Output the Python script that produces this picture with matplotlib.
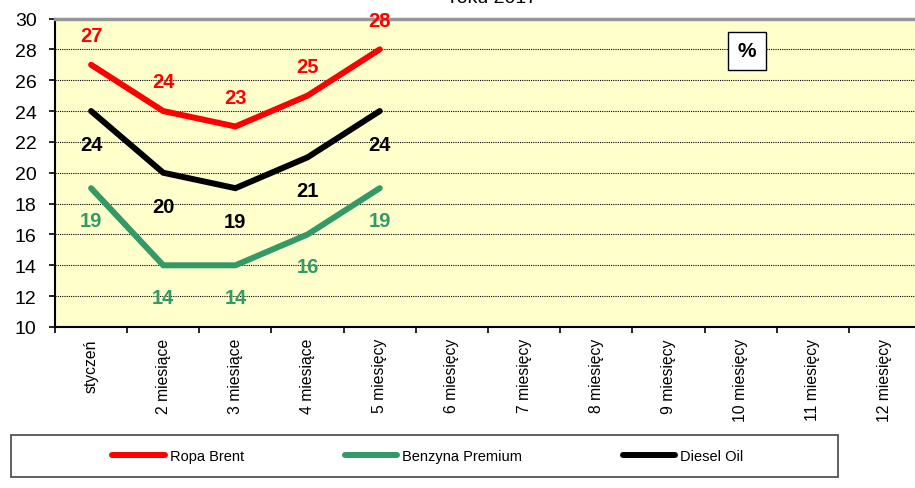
import matplotlib
matplotlib.use("Agg")
import matplotlib.pyplot as plt
from matplotlib.patches import Rectangle

plt.rcParams['font.family'] = ['Liberation Sans', 'DejaVu Sans']

# categories and values
months = ["styczeń", "2 miesiące", "3 miesiące", "4 miesiące", "5 miesięcy",
          "6 miesięcy", "7 miesięcy", "8 miesięcy", "9 miesięcy",
          "10 miesięcy", "11 miesięcy", "12 miesięcy"]
brent = [27, 24, 23, 25, 28]
benzyna = [19, 14, 14, 16, 19]
diesel = [24, 20, 19, 21, 24]
yticks = [10, 12, 14, 16, 18, 20, 22, 24, 26, 28, 30]

W, H = 915, 489
fig = plt.figure(figsize=(W / 100, H / 100), dpi=100)
ax = fig.add_axes([55 / W, (H - 328) / H, 866 / W, 308.5 / H])
ax.set_facecolor("#FFFFCC")

series = [
    ("Ropa Brent", brent, "#FF0000", 21),
    ("Benzyna Premium", benzyna, "#339966", -23),
    ("Diesel Oil", diesel, "#000000", -24),
]
xs = list(range(len(brent)))
handles = []
for name, vals, col, off in series:
    ln, = ax.plot(xs, vals, color=col, lw=4.3, solid_capstyle="round",
                  solid_joinstyle="miter", label=name, zorder=3)
    handles.append(ln)
    for x, v in zip(xs, vals):
        ax.annotate(str(v), (x, v), xytext=(0, off), textcoords="offset points",
                    ha="center", va="center", fontsize=14.5, fontweight="bold",
                    color=col, zorder=4)

ax.set_xlim(-0.5, 11.5)
ax.set_ylim(10, 30)
ax.set_yticks(yticks)
ax.set_yticklabels([str(t) for t in yticks], fontsize=14)
ax.tick_params(axis="y", direction="out", length=4.3, width=1.2, pad=9)
ax.set_xticks(range(len(months)))
ax.set_xticklabels(months, rotation=90, fontsize=11.3, va="top")
ax.tick_params(axis="x", which="major", length=0, pad=8)
ax.set_xticks([i - 0.5 for i in range(len(months) + 1)], minor=True)
ax.tick_params(axis="x", which="minor", direction="out", length=4, width=1.2)

for y in yticks[1:-1]:
    ax.axhline(y, color="black", lw=0.8, ls=(0, (1, 1)), zorder=1)

ax.spines["top"].set_color("#969696")
ax.spines["top"].set_linewidth(2.5)
ax.spines["right"].set_visible(False)
ax.spines["left"].set_linewidth(1.5)
ax.spines["bottom"].set_linewidth(1.5)

ax.text(0.799, 0.895, "%", transform=ax.transAxes, ha="center", va="center",
        fontsize=15, fontweight="bold",
        bbox=dict(boxstyle="square,pad=0.45", fc="white", ec="black", lw=1))

# title sits partly above the top edge, as in the source image
fig.text(494 / W, 1 - 3 / H, "roku 2017", ha="center", va="baseline", fontsize=14)

# legend box
fig.patches.append(Rectangle((11 / W, (H - 478) / H), 827 / W, 42 / H,
                             transform=fig.transFigure, fill=False,
                             ec="#444444", lw=1.2))
fig.legend(handles=handles, loc="center", bbox_to_anchor=(428 / W, (H - 457) / H),
           ncol=3, frameon=False, fontsize=10.5, handlelength=3.6,
           handletextpad=0.35, columnspacing=6.9)

fig.savefig("out.png", dpi=100)
